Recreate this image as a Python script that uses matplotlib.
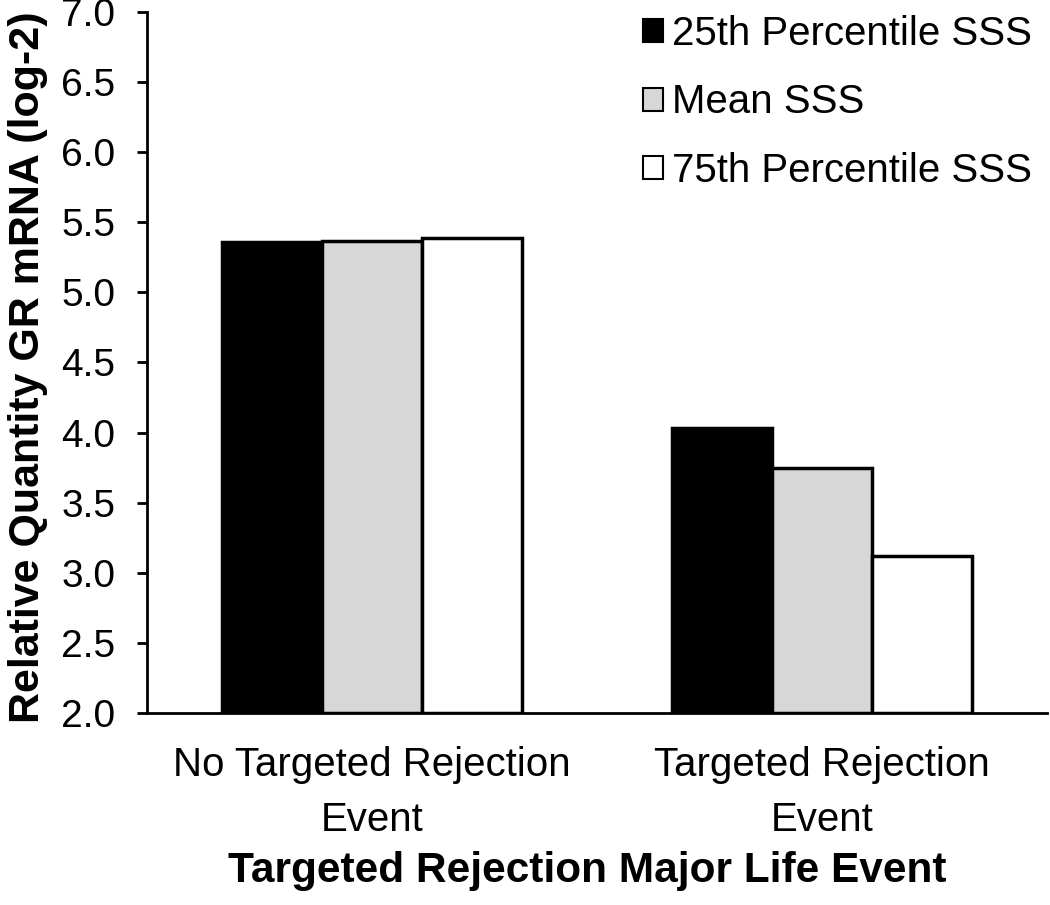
import numpy as np
import matplotlib.pyplot as plt
from matplotlib.patches import Patch

plt.rcParams['font.family'] = ['Liberation Sans', 'DejaVu Sans']

# Data
groups = ['No Targeted Rejection\nEvent', 'Targeted Rejection\nEvent']
series = ['25th Percentile SSS', 'Mean SSS', '75th Percentile SSS']
p25 = [5.36, 4.03]
mean_sss = [5.37, 3.75]
p75 = [5.39, 3.12]
colors = ['#000000', '#d8d7d8', '#ffffff']

fig = plt.figure(figsize=(10.5, 9.05), dpi=100)
ax = fig.add_axes([0.14, 0.2122, 0.857, 0.7745])

x = np.arange(len(groups))
w = 0.222
for i, (vals, c, lab) in enumerate(zip([p25, mean_sss, p75], colors, series)):
    ax.bar(x + (i - 1) * w, np.array(vals) - 2.0, bottom=2.0, width=w, color=c,
           edgecolor='black', linewidth=2.5, label=lab)

ax.set_ylim(2.0, 7.0)
ax.set_xlim(-0.5, 1.5)
ax.set_yticks(np.arange(2.0, 7.01, 0.5))
ax.set_yticklabels([f'{v:.1f}' for v in np.arange(2.0, 7.01, 0.5)])
ax.set_xticks(x)
ax.set_xticklabels(groups)

ax.spines['top'].set_visible(False)
ax.spines['right'].set_visible(False)
ax.spines['left'].set_linewidth(2)
ax.spines['bottom'].set_linewidth(2)
ax.tick_params(axis='y', labelsize=28, length=7, width=2, pad=16)
ax.tick_params(axis='x', labelsize=29, length=0, pad=24)
for t in ax.get_xticklabels():
    t.set_linespacing(1.55)

ax.set_ylabel('Relative Quantity GR mRNA (log-2)', fontsize=31, fontweight='bold')
ax.yaxis.set_label_coords(-0.11, 0.494)
fig.text(0.559, 1 - 882 / 905, 'Targeted Rejection Major Life Event', fontsize=30.5,
         fontweight='bold', ha='center', va='baseline')

handles = [Patch(facecolor=c, edgecolor='black', linewidth=1.5) for c in colors]
ax.legend(handles, series, loc='upper left', bbox_to_anchor=(0.551, 0.996),
          frameon=False, fontsize=29, handlelength=0.5, handleheight=0.5,
          handletextpad=0.22, labelspacing=0.76, borderaxespad=0, borderpad=0)

fig.savefig('out.png', dpi=100)
